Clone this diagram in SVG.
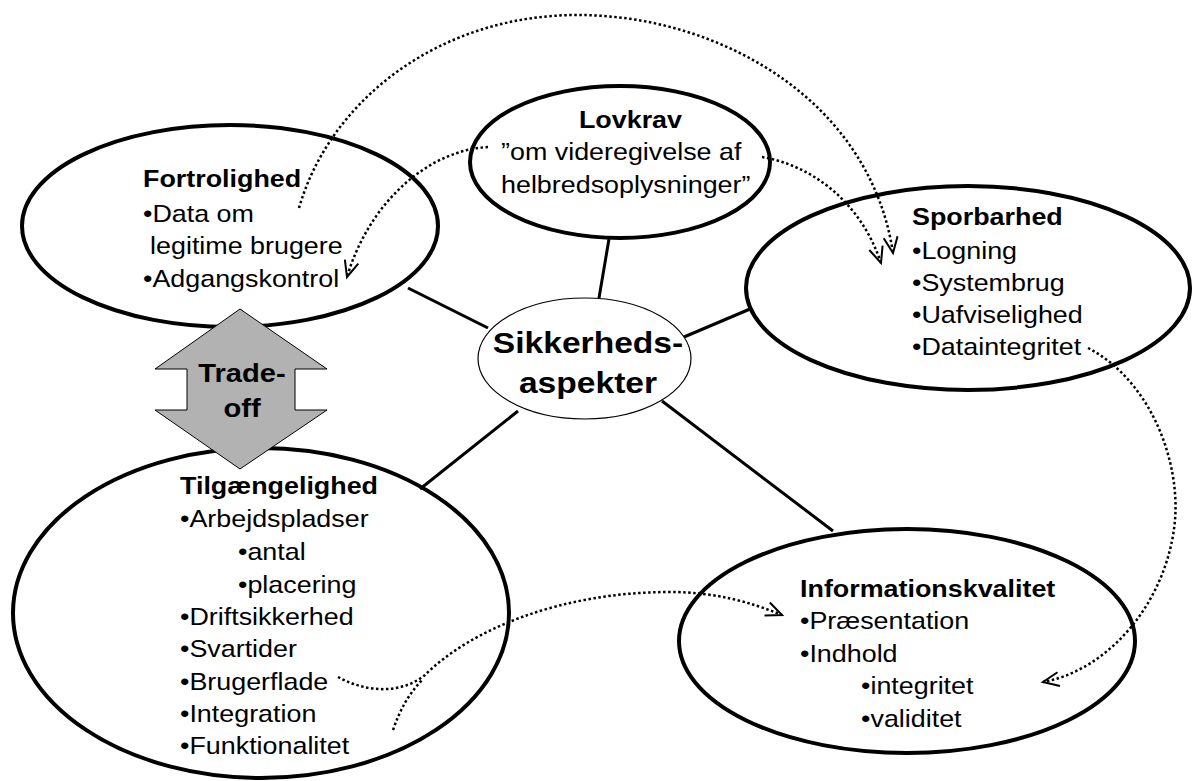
<svg xmlns="http://www.w3.org/2000/svg" width="1197" height="781" viewBox="0 0 1197 781">
  <style>
    .node { fill: #fff; stroke: #000; stroke-width: 4; }
    .hub { fill: #fff; stroke: #000; stroke-width: 1.2; }
    .link { stroke: #000; stroke-width: 3; fill: none; }
    .dot { stroke: #000; stroke-width: 2.5; fill: none; stroke-dasharray: 2.5 2.5; }
    text { font-family: "Liberation Sans", Arial, sans-serif; fill: #000; }
    .t { font-size: 24px; }
    .b { font-weight: bold; }
  </style>
  <defs>
    <marker id="chev" markerUnits="userSpaceOnUse" markerWidth="24" markerHeight="24" viewBox="-20 -12 24 24" refX="0" refY="0" orient="auto">
      <path d="M-16,-7 L0,0 L-16,7" fill="none" stroke="#000" stroke-width="2"/>
    </marker>
  </defs>

  <!-- outer aspect ellipses -->
  <g id="fortrolighed-shape"><ellipse class="node" cx="230" cy="226" rx="208" ry="101"/></g>
  <g id="lovkrav-shape"><ellipse class="node" cx="620" cy="162" rx="150" ry="76"/></g>
  <g id="sporbarhed-shape"><ellipse class="node" cx="968" cy="288" rx="222" ry="102"/></g>
  <g id="tilgaengelighed-shape"><ellipse class="node" cx="261" cy="613" rx="248" ry="165"/></g>
  <g id="informationskvalitet-shape"><ellipse class="node" cx="907" cy="641" rx="228" ry="112"/></g>

  <!-- spokes and dotted relations -->
  <g id="connectors">
    <line class="link" x1="408" y1="288" x2="488" y2="328"/>
    <line class="link" x1="609" y1="239" x2="599" y2="298"/>
    <line class="link" x1="750" y1="309" x2="684" y2="337"/>
    <line class="link" x1="420" y1="489" x2="518" y2="411"/>
    <line class="link" x1="662" y1="401" x2="833" y2="531"/>

    <path class="dot" d="M299,208 C330,100 440,14 580,15 C720,16 870,100 893,253" marker-end="url(#chev)"/>
    <path class="dot" d="M488,147 C430,150 370,200 347,277" marker-end="url(#chev)"/>
    <path class="dot" d="M762,157 C810,165 860,200 881,263" marker-end="url(#chev)"/>
    <path class="dot" d="M338,677 C365,692 400,695 425,675 C470,630 560,592 670,592 C715,592 750,602 782,615" marker-end="url(#chev)"/>
    <path class="dot" d="M393,730 C400,710 408,695 422,680"/>
    <path class="dot" d="M1088,348 C1150,380 1180,460 1175,520 C1168,600 1110,670 1043,682" marker-end="url(#chev)"/>
  </g>

  <!-- central hub -->
  <g id="sikkerhedsaspekter">
    <ellipse class="hub" cx="584.5" cy="358.5" rx="106.5" ry="60.5"/>
    <g transform="translate(588 0) scale(1.12 1)">
      <text class="b" font-size="30" text-anchor="middle"><tspan x="0" y="353">Sikkerheds-</tspan><tspan x="0" y="393">aspekter</tspan></text>
    </g>
  </g>

  <!-- trade-off double arrow -->
  <g id="tradeoff">
    <polygon points="240,309 327,369 295,369 295,410 327,410 240,469 155,410 187,410 187,369 155,369" fill="#b2b2b2" stroke="#000" stroke-width="1"/>
    <g transform="translate(242 0) scale(1.12 1)">
      <text class="b" font-size="26" text-anchor="middle"><tspan x="0" y="382">Trade-</tspan><tspan x="0" y="417">off</tspan></text>
    </g>
  </g>

  <g id="fortrolighed" transform="translate(143 0) scale(1.12 1)">
    <text class="t"><tspan class="b" x="0" y="187">Fortrolighed</tspan><tspan x="0" y="222">•Data om</tspan><tspan x="6.3" y="254">legitime brugere</tspan><tspan x="0" y="287">•Adgangskontrol</tspan></text>
  </g>

  <g id="lovkrav" transform="translate(501 0) scale(1.12 1)">
    <text class="t"><tspan class="b" x="69.6" y="128">Lovkrav</tspan><tspan x="0" y="160">”om videregivelse af</tspan><tspan x="0" y="193">helbredsoplysninger”</tspan></text>
  </g>

  <g id="sporbarhed" transform="translate(912 0) scale(1.12 1)">
    <text class="t"><tspan class="b" x="0" y="225">Sporbarhed</tspan><tspan x="0" y="259">•Logning</tspan><tspan x="0" y="291">•Systembrug</tspan><tspan x="0" y="323">•Uafviselighed</tspan><tspan x="0" y="355">•Dataintegritet</tspan></text>
  </g>

  <g id="informationskvalitet" transform="translate(800 0) scale(1.12 1)">
    <text class="t"><tspan class="b" x="0" y="597">Informationskvalitet</tspan><tspan x="0" y="629">•Præsentation</tspan><tspan x="0" y="662">•Indhold</tspan><tspan x="54.5" y="694">•integritet</tspan><tspan x="54.5" y="727">•validitet</tspan></text>
  </g>

  <g id="tilgaengelighed" transform="translate(180 0) scale(1.12 1)">
    <text class="t"><tspan class="b" x="0" y="494">Tilgængelighed</tspan><tspan x="0" y="527">•Arbejdspladser</tspan><tspan x="51.8" y="560">•antal</tspan><tspan x="51.8" y="593">•placering</tspan><tspan x="0" y="625">•Driftsikkerhed</tspan><tspan x="0" y="657">•Svartider</tspan><tspan x="0" y="690">•Brugerflade</tspan><tspan x="0" y="722">•Integration</tspan><tspan x="0" y="754">•Funktionalitet</tspan></text>
  </g>
</svg>
